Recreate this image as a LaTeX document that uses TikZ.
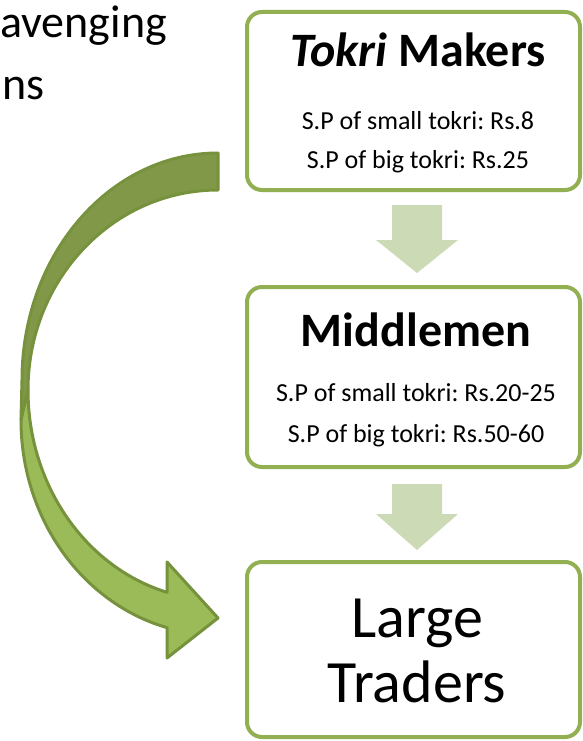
\documentclass[tikz,border=0pt]{standalone}
\usepackage{fontspec}
\setmainfont{Carlito}
\usetikzlibrary{calc}
\definecolor{boxline}{RGB}{146,176,82}
\definecolor{flowarrow}{RGB}{204,218,181}
\definecolor{loopdark}{RGB}{128,152,72}
\definecolor{looplight}{RGB}{155,187,89}
\definecolor{loopedge}{RGB}{118,146,60}
\frenchspacing
\begin{document}
\begin{tikzpicture}[x=1pt,y=-1pt,
  stagebox/.style={draw=boxline,line width=4pt,rounded corners=15pt,fill=white,inner sep=0pt},
  flow/.style={fill=flowarrow,draw=none},
  loopband/.style={draw=loopedge,line width=3pt,line join=round},
  txt/.style={inner sep=0pt,anchor=base},
  head/.style={txt,font=\fontsize{48}{48}\selectfont\bfseries},
  price/.style={txt,font=\fontsize{26}{26}\selectfont},
  big/.style={txt,font=\fontsize{60}{60}\selectfont}]
\useasboundingbox (0,0) rectangle (583,741);

% side caption
\node[txt,anchor=base west,font=\fontsize{46}{46}\selectfont] (cap1) at (0,38) {avenging};
\node[txt,anchor=base west,font=\fontsize{46}{46}\selectfont] (cap2) at (2,100) {ns};

% stage boxes
\node[stagebox,minimum width=333pt,minimum height=178pt] (tm) at (413.5,101) {};
\node[stagebox,minimum width=333pt,minimum height=180pt] (mm) at (413.5,377) {};
\node[stagebox,minimum width=333pt,minimum height=175pt] (lt) at (413.5,649.5) {};

% box texts
\node[head] (tmt) at (418,67) {\textit{Tokri} Makers};
\node[price] (tm1) at (418,130) {S.P of small tokri: Rs.8};
\node[price] (tm2) at (418,168) {S.P of big tokri: Rs.25};

\node[head] (mmt) at (416,346) {Middlemen};
\node[price] (mm1) at (416,401) {S.P of small tokri: Rs.20-25};
\node[price] (mm2) at (416,442) {S.P of big tokri: Rs.50-60};

\node[big] (lt1) at (417,637) {Large};
\node[big] (lt2) at (417,702) {Traders};

% block arrows between stages
\fill[flow] (392,205) -- (442,205) -- (442,240) -- (458,240) -- (417,273)
  -- (376,240) -- (392,240) -- cycle;
\fill[flow] (392,484) -- (442,484) -- (442,514) -- (458,514) -- (417,550)
  -- (376,514) -- (392,514) -- cycle;

% curved bypass arrow: back of the band
\draw[loopband,fill=loopdark] (218,153) arc[start angle=270,end angle=180,x radius=196,y radius=227]
  -- (21,420) -- (28,390) arc[start angle=180,end angle=270,x radius=190,y radius=200] -- cycle;
% front of the band with its head
\draw[loopband,fill=looplight] (21,420)
  arc[start angle=180,end angle=105.0,x radius=197,y radius=215]
  -- (167,658) -- (218,618) -- (167,562) -- (167,592.3)
  arc[start angle=105.57,end angle=180,x radius=190,y radius=210] -- cycle;
\end{tikzpicture}
\end{document}
